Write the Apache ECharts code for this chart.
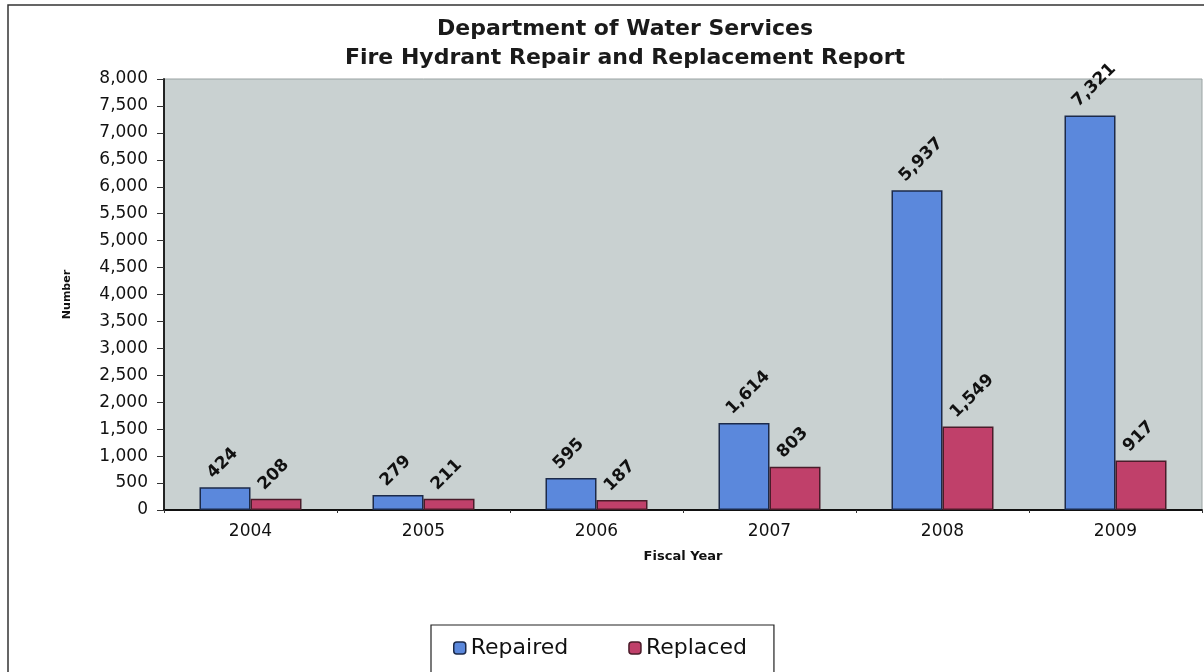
<!DOCTYPE html>
<html><head><meta charset="utf-8">
<script src="https://cdn.jsdelivr.net/npm/echarts@6/dist/echarts.min.js"></script>
<style>html,body{margin:0;padding:0;background:#fff}#c{width:1204px;height:672px}</style>
</head><body><div id="c"></div>
<script>
const years = ['2004','2005','2006','2007','2008','2009'];
const repaired = [424, 279, 595, 1614, 5937, 7321];
const replaced = [208, 211, 187, 803, 1549, 917];
const yTicks = [0, 8000, 500];

const FONT = 'DejaVu Sans';
const chart = echarts.init(document.getElementById('c'));
const fmt = v => v.toLocaleString('en-US');
const lbl = {
  show: true, position: 'top', rotate: 45, align: 'left', verticalAlign: 'middle',
  offset: [-6, -15], color: '#111', fontSize: 17, fontWeight: 'bold', fontFamily: FONT,
  formatter: p => fmt(p.value)
};
chart.setOption({
  animation: false,
  textStyle: {fontFamily: FONT},
  graphic: [{type: 'rect', shape: {x: 8, y: 5, width: 1300, height: 800}, style: {fill: 'none', stroke: '#333', lineWidth: 1.5}, silent: true}],
  title: {
    text: 'Department of Water Services\nFire Hydrant Repair and Replacement Report',
    left: 620, top: 10, textAlign: 'center',
    textStyle: {fontSize: 22, fontWeight: 'bold', color: '#1a1a1a', lineHeight: 29, fontFamily: FONT}
  },
  grid: {left: 164, right: 2, top: 79, bottom: 162, show: true, backgroundColor: '#c9d1d1', borderColor: '#9aa3a3', borderWidth: 1},
  legend: {
    left: 431, top: 625, itemWidth: 12, itemHeight: 12, itemGap: 60,
    padding: [12, 27, 30, 22], borderColor: '#222', borderWidth: 1.2,
    textStyle: {fontSize: 22, color: '#111', fontFamily: FONT},
    data: [{name: 'Repaired', itemStyle: {borderColor: '#1c2a4a', borderWidth: 1.5}}, {name: 'Replaced', itemStyle: {borderColor: '#4a1c2a', borderWidth: 1.5}}]
  },
  xAxis: {
    type: 'category', data: years, name: 'Fiscal Year', nameLocation: 'middle', nameGap: 40,
    nameTextStyle: {fontSize: 13, fontWeight: 'bold', color: '#111', fontFamily: FONT},
    axisLine: {lineStyle: {color: '#111', width: 1.8}},
    axisTick: {show: true, length: 3, lineStyle: {color: '#333'}},
    axisLabel: {fontSize: 17, color: '#111', margin: 13}
  },
  yAxis: {
    type: 'value', min: yTicks[0], max: yTicks[1], interval: yTicks[2],
    name: 'Number', nameLocation: 'middle', nameGap: 91, nameRotate: 90,
    nameTextStyle: {fontSize: 11, fontWeight: 'bold', color: '#111', fontFamily: FONT},
    axisLine: {show: true, lineStyle: {color: '#111', width: 1.8}},
    axisTick: {show: true, length: 7, lineStyle: {color: '#333'}},
    splitLine: {show: false},
    axisLabel: {fontSize: 17, color: '#111', margin: 16, formatter: v => fmt(v)}
  },
  series: [
    {name: 'Repaired', type: 'bar', data: repaired, barWidth: 51, barGap: '0%',
     itemStyle: {color: '#5b88dc', borderColor: '#1c2a4a', borderWidth: 1.5}, label: lbl},
    {name: 'Replaced', type: 'bar', data: replaced, barWidth: 51,
     itemStyle: {color: '#c0406a', borderColor: '#4a1c2a', borderWidth: 1.5}, label: lbl}
  ]
});
</script></body></html>
